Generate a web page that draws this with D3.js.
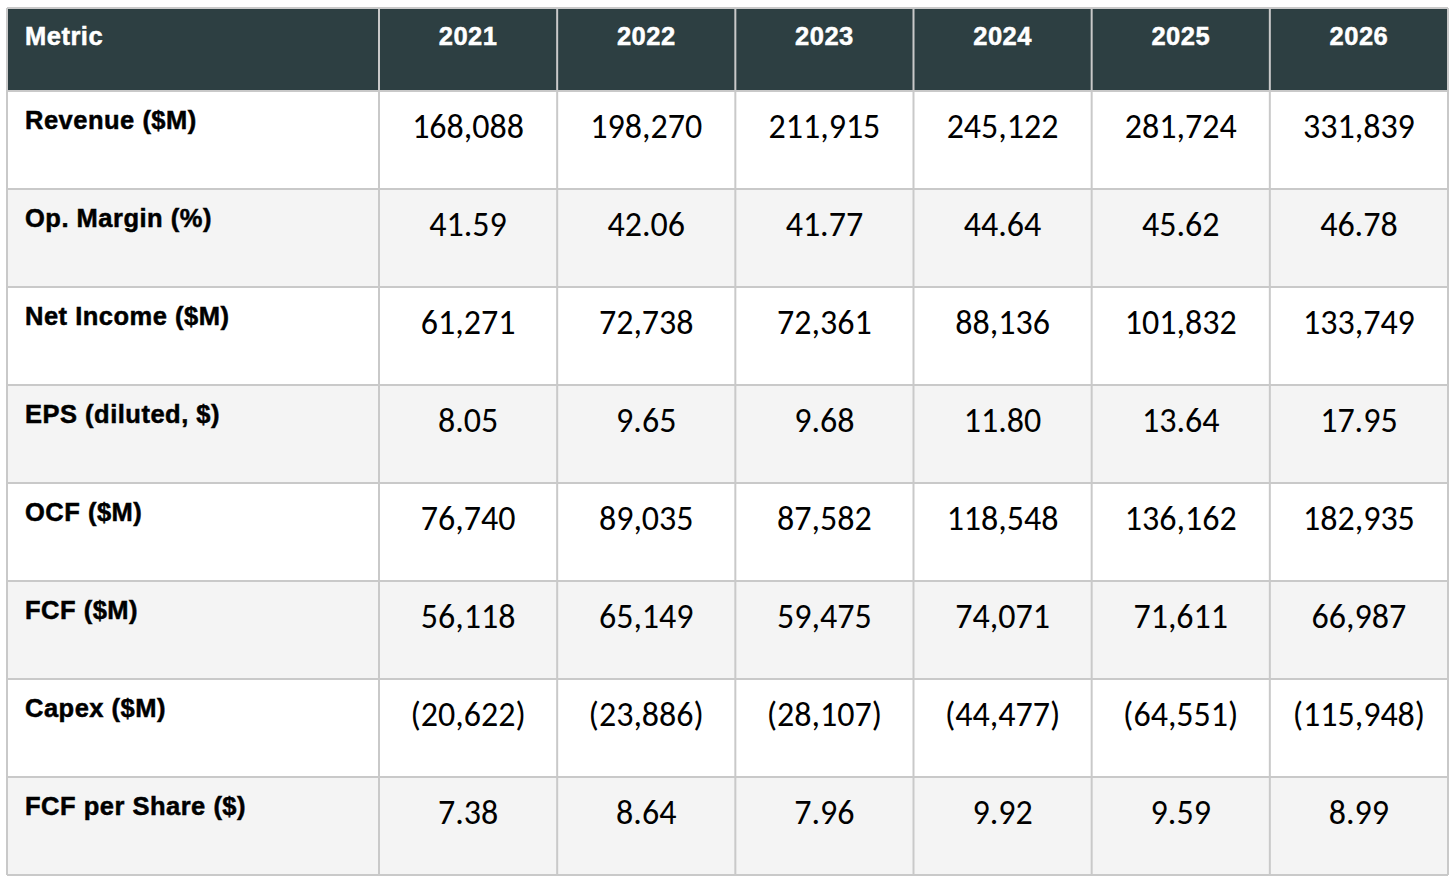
<!DOCTYPE html>
<html>
<head>
<meta charset="utf-8">
<script src="https://cdn.jsdelivr.net/npm/d3@7"></script>
<style>
  body { margin: 0; background: #fff; }
  svg { display: block; }
</style>
</head>
<body>
<div id="chart"></div>
<script>
// table contents
const years = ["2021", "2022", "2023", "2024", "2025", "2026"];
const metrics = ["Revenue ($M)", "Op. Margin (%)", "Net Income ($M)", "EPS (diluted, $)",
                 "OCF ($M)", "FCF ($M)", "Capex ($M)", "FCF per Share ($)"];
const revenue   = ["168,088", "198,270", "211,915", "245,122", "281,724", "331,839"];
const opMargin  = ["41.59", "42.06", "41.77", "44.64", "45.62", "46.78"];
const netIncome = ["61,271", "72,738", "72,361", "88,136", "101,832", "133,749"];
const eps       = ["8.05", "9.65", "9.68", "11.80", "13.64", "17.95"];
const ocf       = ["76,740", "89,035", "87,582", "118,548", "136,162", "182,935"];
const fcf       = ["56,118", "65,149", "59,475", "74,071", "71,611", "66,987"];
const capex     = ["(20,622)", "(23,886)", "(28,107)", "(44,477)", "(64,551)", "(115,948)"];
const fcfShare  = ["7.38", "8.64", "7.96", "9.92", "9.59", "8.99"];

const rows = [revenue, opMargin, netIncome, eps, ocf, fcf, capex, fcfShare];

const width = 1456, height = 882;
const tLeft = 7, tRight = 1448, tTop = 8, headH = 83, tBottom = 875;
const labelW = 372;

const svg = d3.select("#chart").append("svg")
    .attr("width", width)
    .attr("height", height);

const x = d3.scaleBand()
    .domain(years)
    .range([tLeft + labelW, tRight]);

const y = d3.scaleBand()
    .domain(metrics)
    .range([tTop + headH, tBottom]);

// header
svg.append("rect")
    .attr("x", tLeft).attr("y", tTop)
    .attr("width", tRight - tLeft).attr("height", headH)
    .attr("fill", "#2d3f42");

// row backgrounds
svg.selectAll("rect.row")
    .data(metrics)
    .enter().append("rect")
    .attr("class", "row")
    .attr("x", tLeft)
    .attr("y", d => y(d))
    .attr("width", tRight - tLeft)
    .attr("height", y.bandwidth())
    .attr("fill", (d, i) => i % 2 ? "#f4f4f4" : "#fff");

// grid lines
const grid = svg.append("g")
    .attr("stroke", "#c9c9c9")
    .attr("stroke-width", 2);

grid.selectAll("line.h")
    .data(metrics.map(m => y(m)).concat([tTop, tBottom]))
    .enter().append("line")
    .attr("x1", tLeft).attr("x2", tRight)
    .attr("y1", d => d).attr("y2", d => d);

grid.selectAll("line.v")
    .data(years.map(yr => x(yr)).concat([tLeft, tRight]))
    .enter().append("line")
    .attr("y1", tTop).attr("y2", tBottom)
    .attr("x1", d => d).attr("x2", d => d);

// header texts
const headFont = "'Liberation Sans', Arial, sans-serif";
const boldText = sel => sel
    .attr("font-family", headFont)
    .attr("font-weight", "bold")
    .attr("font-size", 25.5)
    .attr("letter-spacing", 0.5)
    .attr("stroke-width", 0.5);

svg.append("text")
    .attr("x", tLeft + 18)
    .attr("y", tTop + 37)
    .call(boldText)
    .attr("fill", "#fff")
    .attr("stroke", "#fff")
    .text("Metric");

svg.selectAll("text.year")
    .data(years)
    .enter().append("text")
    .attr("class", "year")
    .attr("x", d => x(d) + x.bandwidth() / 2)
    .attr("y", tTop + 37)
    .attr("text-anchor", "middle")
    .call(boldText)
    .attr("fill", "#fff")
    .attr("stroke", "#fff")
    .text(d => d);

// metric labels
svg.selectAll("text.metric")
    .data(metrics)
    .enter().append("text")
    .attr("class", "metric")
    .attr("x", tLeft + 18)
    .attr("y", d => y(d) + 38)
    .call(boldText)
    .attr("fill", "#000")
    .attr("stroke", "#000")
    .text(d => d);

// values
rows.forEach((vals, i) => {
    svg.selectAll("text.v" + i)
        .data(vals)
        .enter().append("text")
        .attr("class", "v" + i)
        .attr("x", (d, j) => x(years[j]) + x.bandwidth() / 2)
        .attr("y", y(metrics[i]) + 47)
        .attr("text-anchor", "middle")
        .attr("font-family", "Calibri, Carlito, Lato, sans-serif")
        .attr("font-size", 34)
        .attr("fill", "#000")
        .text(d => d);
});
</script>
</body>
</html>
